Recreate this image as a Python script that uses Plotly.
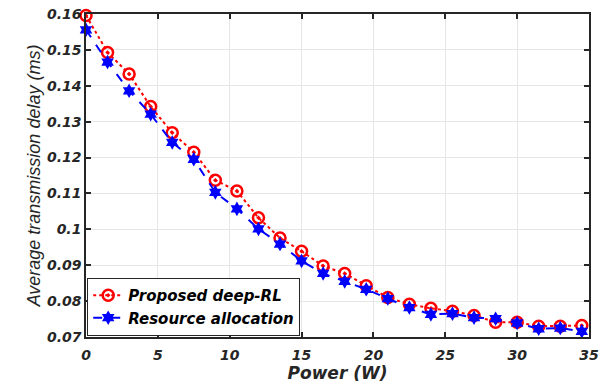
import plotly.graph_objects as go

power = [0, 1.5, 3, 4.5, 6, 7.5, 9, 10.5, 12, 13.5, 15, 16.5,
         18, 19.5, 21, 22.5, 24, 25.5, 27, 28.5, 30, 31.5, 33, 34.5]
proposed = [0.1596, 0.1493, 0.1433, 0.1342, 0.1269, 0.1215, 0.1137, 0.1107, 0.1032, 0.0976, 0.0939, 0.0898,
            0.0877, 0.0843, 0.0810, 0.0791, 0.0780, 0.0772, 0.0760, 0.0741, 0.0741, 0.0730, 0.0730, 0.0732]
resource = [0.1556, 0.1466, 0.1386, 0.1321, 0.1242, 0.1195, 0.1103, 0.1057, 0.1001, 0.0959, 0.0912, 0.0877,
            0.0855, 0.0833, 0.0807, 0.0782, 0.0763, 0.0765, 0.0754, 0.0751, 0.0739, 0.0723, 0.0725, 0.0716]
x_ticks = [0, 5, 10, 15, 20, 25, 30, 35]
x_labels = ["0", "5", "10", "15", "20", "25", "30", "35"]
y_ticks = [0.07, 0.08, 0.09, 0.1, 0.11, 0.12, 0.13, 0.14, 0.15, 0.16]
y_labels = ["0.07", "0.08", "0.09", "0.1", "0.11", "0.12", "0.13", "0.14", "0.15", "0.16"]

BOLD = "DejaVu Sans, sans-serif"
PLAIN = "Liberation Sans, Arial, sans-serif"
INK = "#262626"

def bi(t):
    return "<b><i>" + t + "</i></b>"

fig = go.Figure()
fig.add_trace(go.Scatter(
    x=power, y=proposed, name=bi("Proposed deep-RL"), mode="lines+markers",
    line=dict(color="#ff0000", width=2, dash="dot"),
    marker=dict(symbol="circle-open-dot", size=11, color="#ff0000",
                line=dict(color="#ff0000", width=2.5)),
    cliponaxis=False,
))
fig.add_trace(go.Scatter(
    x=power, y=resource, name=bi("Resource allocation"), mode="lines+markers",
    line=dict(color="#0000ff", width=2, dash="dash"),
    marker=dict(symbol="hexagram", size=11, color="#0000ff"),
    cliponaxis=False,
))

axis_common = dict(
    showline=True, linecolor=INK, linewidth=1.5, mirror="ticks",
    ticks="inside", ticklen=5, tickcolor=INK, tickwidth=1.5,
    showgrid=True, gridcolor="#e6e6e6", gridwidth=1, zeroline=False,
    tickfont=dict(family=BOLD, size=14, color=INK), automargin=False,
)

fig.update_xaxes(range=[0, 35], tickvals=x_ticks, ticktext=[bi(t) for t in x_labels], **axis_common,
                 ticklabelstandoff=4,
                 title=dict(text=bi("Power (W)"), standoff=4,
                            font=dict(family=BOLD, size=17, color=INK)))
fig.update_yaxes(range=[0.07, 0.16], tickvals=y_ticks, ticktext=[bi(t) for t in y_labels], **axis_common,
                 title=dict(text="<i>Average transmission delay (ms)</i>", standoff=2,
                            font=dict(family=PLAIN, size=18, color=INK)))

fig.update_layout(
    width=601, height=385,
    margin=dict(l=86, r=12, t=14, b=48),
    paper_bgcolor="white", plot_bgcolor="white",
    legend=dict(x=0.002, y=0.004, xanchor="left", yanchor="bottom",
                bgcolor="white", bordercolor=INK, borderwidth=1.2,
                font=dict(family=BOLD, size=15, color="#000000"),
                tracegroupgap=0),
    showlegend=True,
)

fig.write_html("out.html")
